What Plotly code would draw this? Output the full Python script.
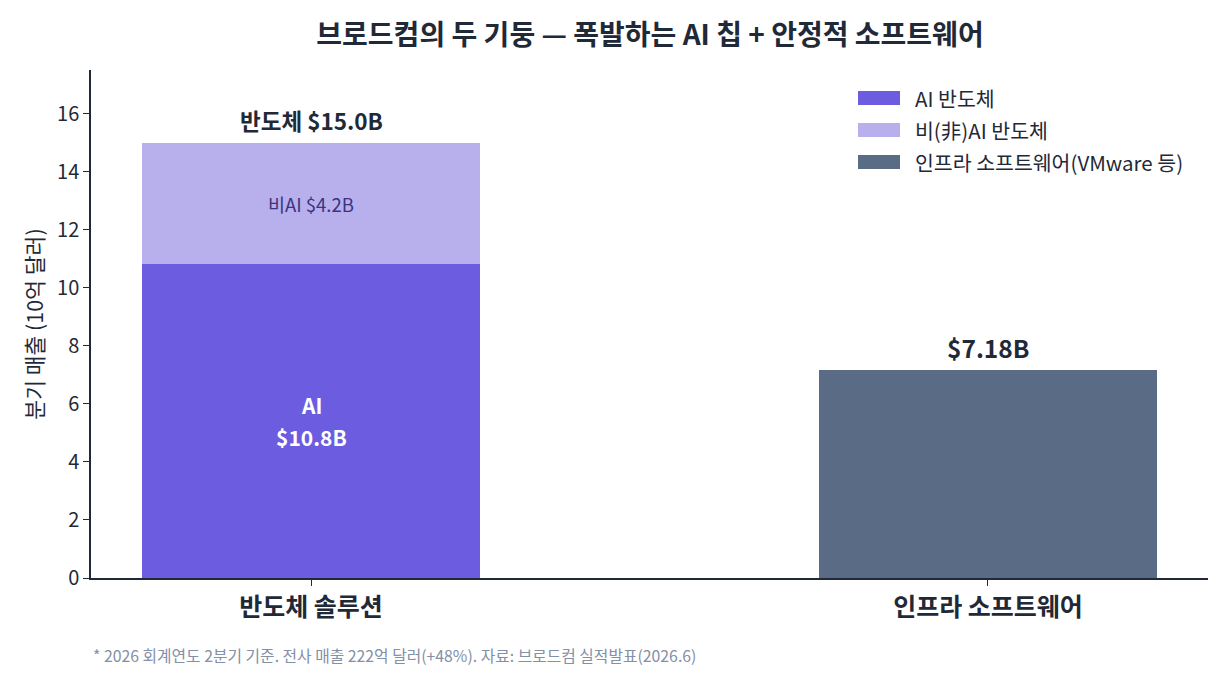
import plotly.graph_objects as go

categories = ["반도체 솔루션", "인프라 소프트웨어"]
ai_semi = [10.8, 0]
non_ai_semi = [4.2, 0]
infra_sw = [0, 7.18]
series_names = ["AI 반도체", "비(非)AI 반도체", "인프라 소프트웨어(VMware 등)"]
colors = ["#6C5CE0", "#B8B0EC", "#5A6B85"]
y_ticks = [0, 2, 4, 6, 8, 10, 12, 14, 16]

FONT = "Noto Sans CJK KR"
DARK = "#1F2937"

x_idx = [0, 1]
fig = go.Figure()
fig.add_trace(go.Bar(x=x_idx, y=ai_semi, name=series_names[0], marker_color=colors[0],
                     width=0.5, showlegend=False, marker_line_width=0))
fig.add_trace(go.Bar(x=x_idx, y=non_ai_semi, name=series_names[1], marker_color=colors[1],
                     width=0.5, showlegend=False, marker_line_width=0))
fig.add_trace(go.Bar(x=x_idx, y=infra_sw, name=series_names[2], marker_color=colors[2],
                     width=0.5, showlegend=False, marker_line_width=0))

annotations = []
semi_total = ai_semi[0] + non_ai_semi[0]
annotations.append(dict(x=0, y=semi_total, text=f"<b>반도체 ${semi_total:.1f}B</b>", showarrow=False,
                        yshift=23, font=dict(size=22.5, color=DARK, family=FONT)))
annotations.append(dict(x=1, y=infra_sw[1], text=f"<b>${infra_sw[1]:.2f}B</b>", showarrow=False,
                        yshift=22, font=dict(size=24.5, color=DARK, family=FONT)))
annotations.append(dict(x=0, y=ai_semi[0] / 2, text="<b>AI</b>", showarrow=False, yshift=0,
                        yanchor="bottom", borderpad=0,
                        font=dict(size=21, color="white", family=FONT)))
annotations.append(dict(x=0, y=ai_semi[0] / 2, text=f"<b>${ai_semi[0]:.1f}B</b>", showarrow=False,
                        yshift=0, yanchor="top", borderpad=0,
                        font=dict(size=21, color="white", family=FONT)))
annotations.append(dict(x=0, y=ai_semi[0] + non_ai_semi[0] / 2, text=f"비AI ${non_ai_semi[0]:.1f}B",
                        showarrow=False, font=dict(size=18.5, color="#3B3480", family=FONT)))

# custom legend
shapes = []
leg_x0 = (858 - 91) / 1117
leg_x1 = (900 - 91) / 1117
for i, (nm, c) in enumerate(zip(series_names, colors)):
    yc = 98 + 32 * i
    y_paper = (578 - yc) / 508
    h = 7 / 508
    shapes.append(dict(type="rect", xref="paper", yref="paper", x0=leg_x0, x1=leg_x1,
                       y0=y_paper - h, y1=y_paper + h, fillcolor=c, line_width=0))
    annotations.append(dict(xref="paper", yref="paper", x=(913 - 91) / 1117, y=y_paper,
                            xanchor="left", yanchor="middle", text=nm, showarrow=False,
                            font=dict(size=20.5, color=DARK, family=FONT)))

annotations.append(dict(xref="paper", yref="paper", x=(91 - 91) / 1117, y=(578 - 655) / 508,
                        xanchor="left", yanchor="middle", showarrow=False,
                        text="* 2026 회계연도 2분기 기준. 전사 매출 222억 달러(+48%). 자료: 브로드컴 실적발표(2026.6)",
                        font=dict(size=15.8, color="#8390A6", family=FONT)))

fig.update_layout(
    width=1230, height=690,
    barmode="stack",
    bargap=0,
    plot_bgcolor="white", paper_bgcolor="white",
    margin=dict(l=91, r=22, t=70, b=112),
    title=dict(text="<b>브로드컴의 두 기둥 — 폭발하는 AI 칩 + 안정적 소프트웨어</b>",
               x=(650) / 1230, xanchor="center", y=1 - 35 / 690, yanchor="middle",
               font=dict(size=28, color=DARK, family=FONT)),
    font=dict(family=FONT, color=DARK),
    showlegend=False,
    annotations=annotations,
    shapes=shapes,
)
fig.update_xaxes(
    range=[-0.325, 1.325], tickmode="array", tickvals=x_idx,
    ticktext=[f"<b>{c}</b>" for c in categories],
    tickfont=dict(size=25, color=DARK, family=FONT),
    showline=True, linecolor=DARK, linewidth=1.5,
    ticks="outside", ticklen=6, tickcolor=DARK, showgrid=False, zeroline=False,
)
fig.update_yaxes(
    range=[0, 17.5], tickmode="array", tickvals=y_ticks,
    tickfont=dict(size=20, color=DARK, family=FONT),
    showline=True, linecolor=DARK, linewidth=1.5,
    ticks="outside", ticklen=6, tickcolor=DARK, showgrid=False, zeroline=False,
    title=dict(text="분기 매출 (10억 달러)", font=dict(size=21.5, color=DARK, family=FONT), standoff=8),
)

fig.write_html("out.html")
